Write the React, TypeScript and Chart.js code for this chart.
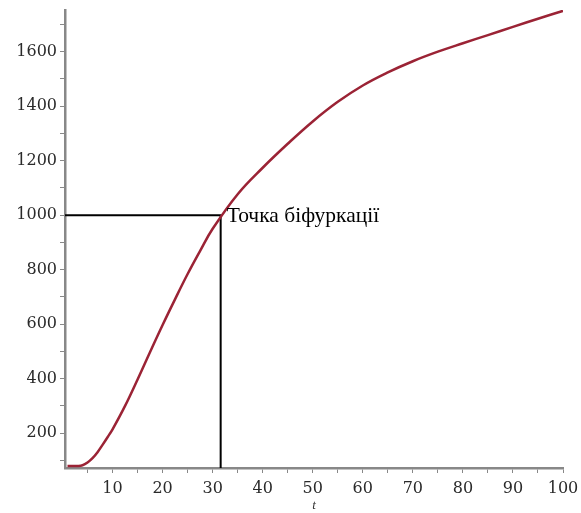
import React, { useEffect, useRef } from "react";
import { Chart, registerables } from "chart.js";

Chart.register(...registerables);

// Curve N(t)
const tValues = [1, 3, 4, 5, 6, 7, 8, 9, 10, 12.5, 15, 17.5, 20, 22.5, 25, 27.5, 30, 35, 40, 45, 50, 55, 60, 65, 70, 75, 80, 85, 90, 95, 100];
const nValues = [79, 79.5, 82, 92, 108, 130, 157, 185, 214, 300, 397, 498, 597, 692, 784, 869, 950, 1077, 1174, 1262, 1344, 1416, 1476, 1524, 1565, 1600, 1631, 1661, 1691, 1721, 1750];

// Bifurcation point
const bifT = 31.6;
const bifN = 1000;
const bifLabel = "Точка біфуркації";

// Axes
const xMin = 0.5;
const xMax = 100;
const yMin = 72;
const yMax = 1753;
const xTickValues = [5, 10, 15, 20, 25, 30, 35, 40, 45, 50, 55, 60, 65, 70, 75, 80, 85, 90, 95, 100];
const xLabelValues = [10, 20, 30, 40, 50, 60, 70, 80, 90, 100];
const yTickValues = [100, 200, 300, 400, 500, 600, 700, 800, 900, 1000, 1100, 1200, 1300, 1400, 1500, 1600, 1700];
const yLabelValues = [200, 400, 600, 800, 1000, 1200, 1400, 1600];
const xTitle = "t";

export default function App() {
  const ref = useRef<HTMLCanvasElement>(null);
  useEffect(() => {
    if (!ref.current) return;
    const textPlugin = {
      id: "texts",
      afterDraw(chart: any) {
        const ctx = chart.ctx;
        const xs = chart.scales.x;
        const ys = chart.scales.y;
        ctx.save();
        ctx.fillStyle = "#000";
        ctx.font = '21.5px "Liberation Serif", "DejaVu Serif", serif';
        ctx.textAlign = "left";
        ctx.textBaseline = "middle";
        ctx.fillText(bifLabel, xs.getPixelForValue(bifT) + 6, ys.getPixelForValue(bifN) + 1);
        ctx.font = 'italic 13px "Liberation Serif", serif';
        ctx.textAlign = "center";
        ctx.fillStyle = "#333";
        ctx.fillText(xTitle, (chart.chartArea.left + chart.chartArea.right) / 2, 506);
        ctx.restore();
      },
    };
    const tickFont = { family: '"DejaVu Serif", serif', size: 16 };
    const chart = new Chart(ref.current, {
      type: "line",
      data: {
        datasets: [
          {
            data: tValues.map((t, i) => ({ x: t, y: nValues[i] })),
            borderColor: "#9b2335",
            borderWidth: 2.5,
            pointRadius: 0,
            tension: 0.4,
            fill: false,
          },
          {
            data: [
              { x: xMin, y: bifN },
              { x: bifT, y: bifN },
              { x: bifT, y: yMin },
            ],
            borderColor: "#000",
            borderWidth: 2,
            pointRadius: 0,
            tension: 0,
            fill: false,
          },
        ],
      },
      options: {
        animation: false,
        responsive: false,
        devicePixelRatio: 1,
        layout: { padding: { left: 0, right: 18, top: 10, bottom: 0 } },
        plugins: { legend: { display: false }, tooltip: { enabled: false } },
        scales: {
          x: {
            type: "linear",
            min: xMin,
            max: xMax,
            afterBuildTicks: (s: any) => {
              s.ticks = xTickValues.map((v) => ({ value: v }));
            },
            afterFit: (s: any) => {
              s.height = 45;
              s.paddingLeft = 0;
              s.paddingRight = 0;
            },
            ticks: {
              autoSkip: false,
              maxRotation: 0,
              padding: 6,
              color: "#2a2a2a",
              font: tickFont,
              callback: (v: any) => (xLabelValues.includes(Number(v)) ? String(v) : ""),
            },
            grid: { drawOnChartArea: false, drawTicks: true, tickLength: 5, color: "#888" },
            border: { color: "#888", width: 2.5 },
          },
          y: {
            type: "linear",
            min: yMin,
            max: yMax,
            afterBuildTicks: (s: any) => {
              s.ticks = yTickValues.map((v) => ({ value: v }));
            },
            afterFit: (s: any) => {
              s.width = 65;
              s.paddingTop = 0;
              s.paddingBottom = 0;
            },
            ticks: {
              autoSkip: false,
              padding: 3,
              color: "#2a2a2a",
              font: tickFont,
              callback: (v: any) => (yLabelValues.includes(Number(v)) ? String(v) : ""),
            },
            grid: { drawOnChartArea: false, drawTicks: true, tickLength: 5, color: "#888" },
            border: { color: "#888", width: 2.5 },
          },
        },
      },
      plugins: [textPlugin],
    } as any);
    return () => chart.destroy();
  }, []);
  return (
    <div style={{ position: "fixed", left: 0, top: 0, width: 581, height: 513, background: "#fff" }}>
      <canvas ref={ref} width={581} height={513} style={{ display: "block" }} />
    </div>
  );
}
